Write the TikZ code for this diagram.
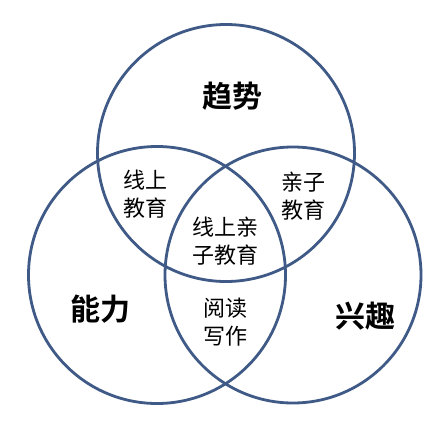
\documentclass[tikz,border=0pt]{standalone}
\usepackage{fontspec}
\newfontfamily\cjk{Noto Sans CJK SC}
\newfontfamily\cjkb{Noto Sans CJK SC Bold}
\definecolor{ring}{HTML}{3F5A86}
\begin{document}
\begin{tikzpicture}[x=1pt,y=-1pt,
  ring/.style={draw=ring,line width=2.8pt},
  big/.style={font=\cjkb\fontsize{30}{32}\selectfont,inner sep=0pt},
  small/.style={font=\cjk\fontsize{22}{28}\selectfont,align=center,inner sep=0pt}]
\useasboundingbox (0,0) rectangle (439,423);
\fill[white] (0,0) rectangle (439,423);
\coordinate (ct) at (226,153);
\coordinate (cl) at (157,275);
\coordinate (cr) at (293,275);
\draw[ring] (ct) circle (128.5);
\draw[ring] (cl) circle (128.5);
\draw[ring] (cr) circle (128);
\node[big] (trend) at (232,96) {趋势};
\node[big] (ability) at (100,309) {能力};
\node[big] (interest) at (365,316) {兴趣};
\node[small] (online) at (145,194) {线上\\教育};
\node[small] (parent) at (303,196) {亲子\\教育};
\node[small] (center) at (225,241) {线上亲\\子教育};
\node[small] (read) at (225,322) {阅读\\写作};
\end{tikzpicture}
\end{document}
